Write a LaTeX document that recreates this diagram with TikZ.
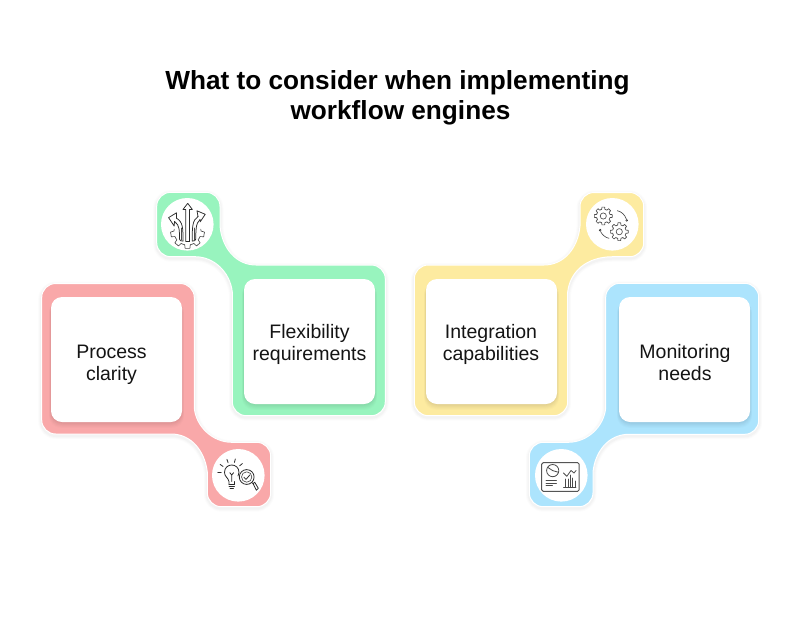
\documentclass[tikz,border=0pt]{standalone}
\usepackage{fontspec}
\usetikzlibrary{calc}
\setmainfont{Liberation Sans}
\newfontfamily\titlefont{Liberation Sans}
\definecolor{cred}{HTML}{F9A8A9}
\definecolor{cgreen}{HTML}{98F4BE}
\definecolor{cyellow}{HTML}{FDEBA0}
\definecolor{cblue}{HTML}{ACE4FD}
\definecolor{ink}{HTML}{2A2A2A}
\tikzset{
  x=1pt,y=-1pt,
  titletext/.style={font=\titlefont\bfseries\fontsize{26.2}{30}\selectfont,align=center,text=black,inner sep=0},
  labeltext/.style={font=\fontsize{19.5}{22}\selectfont,align=center,text=black!92,inner sep=0},
  cardbox/.style={fill=white,rounded corners=11pt,minimum width=131pt,minimum height=125pt,inner sep=0},
  iconcircle/.style={circle,fill=white,minimum size=52.6pt,inner sep=0},
  icon/.style={draw=ink,line width=0.8pt,line join=round,line cap=round},
  iconthin/.style={draw=ink!85,line width=0.65pt,line join=round,line cap=round}
}
\newcommand\Cor[3]{.. controls ($(#1)!.552!(#3)$) and ($(#2)!.552!(#3)$) .. (#2)}
\newcommand\blobshape[2]{%
  \foreach \w/\o in {7/.012,5/.014,3/.018}{\draw[black,opacity=\o,line width=\w pt,line join=round,yshift=-1.5pt] #2;}
  \fill[#1] #2;
  \draw[white,line width=1pt,line join=round] #2;
}
\newcommand\cardat[3]{%
  \foreach \o/\g in {.012/6,.014/5,.016/4,.018/3,.02/2,.02/1}{%
    \fill[black,opacity=\o,rounded corners=12pt] ($(#3)+(-65.5-\g*.35,-62.5+3)$) rectangle ($(#3)+(65.5+\g*.35,62.5+\g)$);}
  \node[cardbox] (#1) at (#3) {};
}
\newcommand\gearat[7][]{%
  \begin{scope}[shift={(#2)}]
  \pgfmathsetmacro\stepa{360/#5}
  \pgfmathsetmacro\second{#6+\stepa}
  \foreach \a in {#6,\second,...,#7}{
    \draw[#1] (\a-\stepa/2:#3) -- (\a-\stepa*.3:#3) -- (\a-\stepa*.2:#4) -- (\a+\stepa*.2:#4) -- (\a+\stepa*.3:#3) -- (\a+\stepa/2:#3);
  }
  \end{scope}
}
\begin{document}
\begin{tikzpicture}
\useasboundingbox[fill=white] (0,0) rectangle (800,627);

\node[titletext] (title) at (397.5,98) {What to consider when implementing\\\hspace*{6pt}workflow engines};

\blobshape{cred}{(55.7,283.5) -- (180.3,283.5) \Cor{180.3,283.5}{194.3,297.5}{194.3,283.5} -- (194.3,408)
  .. controls (196,426) and (212,442.3) .. (232,442.3) -- (256.7,442.3) \Cor{256.7,442.3}{270.7,456.3}{270.7,442.3} -- (270.7,492.7)
  \Cor{270.7,492.7}{256.7,506.7}{270.7,506.7} -- (221.3,506.7) \Cor{221.3,506.7}{207.3,492.7}{207.3,506.7} -- (207.3,472)
  .. controls (205,452) and (192,434) .. (171,434) -- (55.7,434) \Cor{55.7,434}{41.7,420}{41.7,434} -- (41.7,297.5) \Cor{41.7,297.5}{55.7,283.5}{41.7,283.5} -- cycle}
\blobshape{cgreen}{(170.7,192.3) -- (206,192.3) \Cor{206,192.3}{220,206.3}{220,192.3} -- (220,226)
  .. controls (222,248) and (236,265) .. (256,265) -- (371.3,265) \Cor{371.3,265}{385.3,279}{385.3,265} -- (385.3,401.7)
  \Cor{385.3,401.7}{371.3,415.7}{385.3,415.7} -- (246.3,415.7) \Cor{246.3,415.7}{232.3,401.7}{232.3,415.7} -- (232.3,292)
  .. controls (230,272) and (214,256.7) .. (195,256.7) -- (170.7,256.7) \Cor{170.7,256.7}{156.7,242.7}{156.7,256.7} -- (156.7,206.3) \Cor{156.7,206.3}{170.7,192.3}{156.7,192.3} -- cycle}
\blobshape{cyellow}{(428.3,265) -- (544,265) .. controls (564,265) and (578,248) .. (580,226) -- (580,206.5) \Cor{580,206.5}{594,192.5}{580,192.5}
  -- (629.7,192.5) \Cor{629.7,192.5}{643.7,206.5}{643.7,192.5} -- (643.7,242.7) \Cor{643.7,242.7}{629.7,256.7}{643.7,256.7} -- (613,256.7)
  .. controls (586,256.7) and (570,272) .. (567.7,292) -- (567.7,401.7) \Cor{567.7,401.7}{553.7,415.7}{567.7,415.7} -- (428.3,415.7)
  \Cor{428.3,415.7}{414.3,401.7}{414.3,415.7} -- (414.3,279) \Cor{414.3,279}{428.3,265}{414.3,265} -- cycle}
\blobshape{cblue}{(619.7,283.3) -- (744.7,283.3) \Cor{744.7,283.3}{758.7,297.3}{758.7,283.3} -- (758.7,420.3) \Cor{758.7,420.3}{744.7,434.3}{758.7,434.3}
  -- (629,434.3) .. controls (608,434.3) and (595,452) .. (593,472) -- (593,492.7) \Cor{593,492.7}{579,506.7}{593,506.7} -- (543.3,506.7)
  \Cor{543.3,506.7}{529.3,492.7}{529.3,506.7} -- (529.3,456.3) \Cor{529.3,456.3}{543.3,442.3}{529.3,442.3} -- (568,442.3)
  .. controls (588,442.3) and (604,426) .. (605.7,408) -- (605.7,297.3) \Cor{605.7,297.3}{619.7,283.3}{605.7,283.3} -- cycle}

\cardat{cardred}{cred}{116.5,359.5}
\cardat{cardgreen}{cgreen}{309.5,341.5}
\cardat{cardyellow}{cyellow}{491.5,341.5}
\cardat{cardblue}{cblue}{684.5,359.5}

\node[labeltext] (t1) at (111.5,365) {Process\\clarity};
\node[labeltext] (t2) at (309.5,344) {Flexibility\\requirements};
\node[labeltext] (t3) at (491,344.5) {Integration\\capabilities};
\node[labeltext] (t4) at (685,363) {Monitoring\\needs};

\node[iconcircle] (ired) at (238.3,475.3) {};
\node[iconcircle] (igreen) at (187.3,224.3) {};
\node[iconcircle] (iyellow) at (612.3,224.3) {};
\node[iconcircle] (iblue) at (561.3,475.3) {};

% bulb and magnifier
\begin{scope}[icon]
\draw (229,484.5) -- (229,481.5) .. controls (228,477.5) and (224.5,476.5) .. (224.5,472.5)
  .. controls (224.5,462.5) and (239,462.5) .. (239,472.5) .. controls (239,474) and (238.6,475) .. (238,476);
\draw (234.5,484.5) -- (234.5,481.5);
\draw (229,484.5) -- (234.5,484.5) (229,486.5) -- (234.5,486.5) (230,488.6) -- (233.5,488.6);
\draw (231.7,481.5) -- (231.7,475) (229.8,472.7) -- (231.7,475) -- (233.6,472.7);
\foreach \a in {180,215,250,285,320}{
  \draw ($(231.7,472.5)+(\a:10.5)$) -- ($(231.7,472.5)+(\a:14)$);
}
\draw (246.7,477) circle[radius=7.4];
\draw[iconthin] (246.7,477) circle[radius=5.2];
\draw (243.9,477.2) -- (246,479.4) -- (249.8,475);
\draw (252,482.6) -- (253.8,484.4);
\draw (253.1,483.6) -- (254.7,482.2) -- (258.3,488.3) -- (256.4,490.2) -- cycle;
\end{scope}

% arrows over gear
\gearat[iconthin]{187.5,231.5}{13.5}{17}{9}{10}{170}
\begin{scope}[icon,line width=0.75pt]
\draw (187.7,203.3) -- (192.4,209.5) -- (189.6,209.5) -- (189.6,241) (187.7,203.3) -- (183,209.5) -- (185.8,209.5) -- (185.8,241);
\draw (185.8,241) -- (189.6,241);
\draw (183,241) .. controls (183,228) and (183,222) .. (176.5,218.2);
\draw (176.5,218.2) -- (176.5,212.8) -- (168.6,217.6) -- (174.2,226) -- (174.5,221.4);
\draw (174.5,221.4) .. controls (180,225) and (179.5,232) .. (179.5,239) .. controls (179.5,241) and (181,241) .. (183,241);
\draw[iconthin] (181.2,240) -- (181.2,228);
\draw (192.2,241) .. controls (192.2,228) and (192.2,220) .. (198,216.5);
\draw (198,216.5) -- (197,210.8) -- (205.2,214.3) -- (200.2,221.8) -- (200,219.6);
\draw (200,219.6) .. controls (195.5,223) and (195.8,232) .. (195.8,239) .. controls (195.8,241) and (194,241) .. (192.2,241);
\draw[iconthin] (194,240) -- (194,228);
\end{scope}

% gears
\gearat[iconthin]{603.3,216}{6.8}{9}{8}{0}{315}
\gearat[iconthin]{619.3,231.7}{6.8}{9}{8}{0}{315}
\draw[iconthin] (603.3,216) circle[radius=3.1];
\draw[iconthin] (619.3,231.7) circle[radius=3.1];
\draw[iconthin] (617.3,210.7) .. controls (621.5,211.5) and (625,215) .. (626.3,219);
\fill[white,draw=ink,line width=.5pt] (626.7,220.3) circle[radius=.9];
\draw[iconthin] (600.6,231.5) .. controls (602,234.5) and (605,237.5) .. (609,238.3);
\fill[white,draw=ink,line width=.5pt] (600.2,230.2) circle[radius=.9];

% dashboard
\begin{scope}[draw=ink!80,line width=1pt,line join=round]
\draw[rounded corners=1.5pt] (541.7,462.7) rectangle (579.2,491.3);
\end{scope}
\begin{scope}[icon,line width=.8pt,draw=ink!85]
\draw (552.7,470.6) circle[radius=6.1];
\draw (547.6,467.3) -- (552.7,470.6) -- (558.6,472.3);
\draw (546,480.2) -- (556.5,480.2) (546,483) -- (556.5,483) (546,485.8) -- (552.5,485.8);
\draw (563.5,487.3) -- (576,487.3);
\draw (565.5,487.3) -- (565.5,479) (568,487.3) -- (568,479) (570.2,487.3) -- (570.2,475) (572.7,487.3) -- (572.7,478) (575,487.3) -- (575,481);
\draw (563.5,473) -- (566.8,476.3) -- (571,470.5) -- (574,473) -- (576,470.5);
\end{scope}
\end{tikzpicture}
\end{document}
